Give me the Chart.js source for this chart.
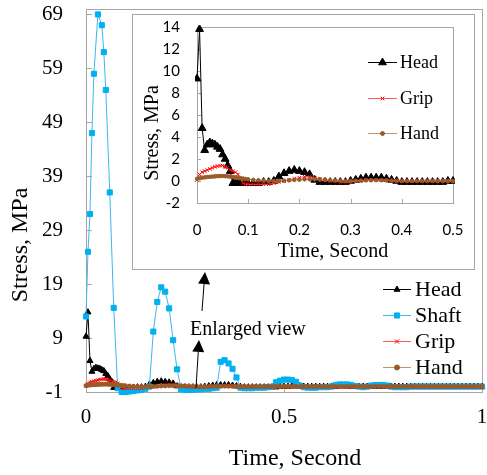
<!DOCTYPE html>
<html lang="en">
<head>
<meta charset="utf-8">
<title>Stress vs Time</title>
<script src="https://cdn.jsdelivr.net/npm/chart.js"></script>
<style>
  html, body { margin: 0; padding: 0; background: #fff; }
  #wrap { position: relative; width: 487px; height: 475px; overflow: hidden; }
  #mainChart { position: absolute; left: 0; top: 0; }
  #insetBox { position: absolute; left: 132px; top: 14px; width: 343px; height: 256px;
              background: #fff; border: 1px solid #a6a6a6; box-sizing: border-box; }
  #insetChart { display: block; }
</style>
</head>
<body>
<div id="wrap">
  <canvas id="mainChart" width="487" height="475"></canvas>
  <div id="insetBox"><canvas id="insetChart" width="341" height="254"></canvas></div>
</div>

<script>
// time, s
const times = [
  0, 0.005, 0.01, 0.015, 0.02, 0.025, 0.03, 0.035, 0.04, 0.045, 0.05, 0.055, 0.06, 0.065, 0.07, 0.075, 0.08, 0.085, 0.09, 0.095, 0.1,
  0.11, 0.12, 0.13, 0.14, 0.15, 0.16, 0.17, 0.18, 0.19, 0.2,
  0.21, 0.22, 0.23, 0.24, 0.25, 0.26, 0.27, 0.28, 0.29, 0.3,
  0.31, 0.32, 0.33, 0.34, 0.35, 0.36, 0.37, 0.38, 0.39, 0.4,
  0.41, 0.42, 0.43, 0.44, 0.45, 0.46, 0.47, 0.48, 0.49, 0.5,
  0.51, 0.52, 0.53, 0.54, 0.55, 0.56, 0.57, 0.58, 0.59, 0.6,
  0.61, 0.62, 0.63, 0.64, 0.65, 0.66, 0.67, 0.68, 0.69, 0.7,
  0.71, 0.72, 0.73, 0.74, 0.75, 0.76, 0.77, 0.78, 0.79, 0.8,
  0.81, 0.82, 0.83, 0.84, 0.85, 0.86, 0.87, 0.88, 0.89, 0.9,
  0.91, 0.92, 0.93, 0.94, 0.95, 0.96, 0.97, 0.98, 0.99, 1.0
];

// stress, MPa
const headStress = [
  9.3, 13.8, 4.8, 2.8, 3.3, 3.5, 3.4, 3.3, 3.1, 2.9, 2.4, 2.0, 1.4, 0.9, -0.2, -0.2, -0.2, -0.2, -0.2, -0.2, -0.2,
  -0.2, -0.2, -0.1, -0.1, 0.0, 0.4, 0.7, 0.9, 1.0, 0.9,
  0.8, 0.6, 0.1, -0.1, -0.1, -0.1, -0.1, -0.1, -0.1, 0.0,
  0.1, 0.2, 0.3, 0.3, 0.3, 0.3, 0.2, 0.1, 0.0, -0.1,
  -0.1, -0.1, -0.1, -0.1, -0.1, -0.1, -0.1, -0.1, 0.0, 0.0,
  0.0, 0.1, 0.1, 0.1, 0.0, 0.0, 0.0, 0.0, 0.0, 0.0,
  0.0, 0.0, 0.0, 0.1, 0.1, 0.1, 0.0, 0.0, 0.0, 0.0,
  0.0, 0.0, 0.0, 0.0, 0.0, 0.0, 0.0, 0.0, 0.0, 0.0,
  0.0, 0.0, 0.0, 0.0, 0.0, 0.0, 0.0, 0.0, 0.0, 0.0,
  0.0, 0.0, 0.0, 0.0, 0.0, 0.0, 0.0, 0.0, 0.0, 0.0
];
const shaftStress = [
  13, 25, 32, 47, 58, null, 69, null, 67, 62, 55, null, 36, null, 14.6, null, -0.3, null, -1, null, -1,
  -0.9, -0.8, -0.7, -0.6, -0.4, 0.0, 10.2, 15.7, 18.4, 17.6,
  14.5, 8.6, 3.2, -0.5, -0.6, -0.6, -0.6, -0.5, -0.5, -0.4,
  -0.4, -0.3, -0.2, 4.6, 4.9, 4.3, 3.3, 1.7, -0.2, -0.3,
  -0.3, -0.3, -0.2, -0.2, -0.2, -0.1, 0.0, 0.8, 1.1, 1.3,
  1.3, 1.2, 0.9, 0.2, -0.1, -0.2, -0.2, -0.2, -0.1, -0.1,
  -0.1, 0.0, 0.3, 0.4, 0.4, 0.4, 0.3, 0.1, 0.0, -0.1,
  0.0, 0.2, 0.3, 0.3, 0.3, 0.2, 0.0, -0.1, -0.1, -0.1,
  -0.1, 0.0, 0.0, 0.0, 0.0, 0.0, 0.0, 0.0, 0.0, 0.0,
  0.0, 0.0, 0.0, 0.0, 0.0, 0.0, 0.0, 0.0, 0.0, 0.0
];
const gripStress = [
  0.1, 0.6, 0.8, 0.9, 1.0, 1.1, 1.2, 1.3, 1.35, 1.4, 1.4, 1.3, 1.2, 1.0, 0.9, 0.8, 0.6, 0.2, -0.2, -0.3, -0.3,
  -0.3, -0.3, -0.3, -0.3, -0.2, -0.1, 0.0, 0.1, 0.2, 0.3,
  0.4, 0.4, 0.3, 0.2, 0.1, 0.0, 0.0, -0.1, -0.1, -0.1,
  0.0, 0.0, 0.1, 0.1, 0.1, 0.1, 0.1, 0.0, 0.0, 0.0,
  0.0, 0.0, 0.0, 0.0, 0.0, 0.0, 0.0, 0.0, 0.0, 0.0,
  0.0, 0.0, 0.0, 0.0, 0.0, 0.0, 0.0, 0.0, 0.0, 0.0,
  0.0, 0.0, 0.0, 0.0, 0.0, 0.0, 0.0, 0.0, 0.0, 0.0,
  0.0, 0.0, 0.0, 0.0, 0.0, 0.0, 0.0, 0.0, 0.0, 0.0,
  0.0, 0.0, 0.0, 0.0, 0.0, 0.0, 0.0, 0.0, 0.0, 0.0,
  0.0, 0.0, 0.0, 0.0, 0.0, 0.0, 0.0, 0.0, 0.0, 0.0
];
const handStress = [
  0.2, 0.25, 0.3, 0.33, 0.36, 0.38, 0.4, 0.42, 0.44, 0.45, 0.45, 0.44, 0.42, 0.4, 0.37, 0.34, 0.3, 0.26, 0.22, 0.18, 0.15,
  0.1, 0.06, 0.03, 0.0, 0.0, 0.0, 0.03, 0.06, 0.1, 0.12,
  0.15, 0.16, 0.15, 0.12, 0.1, 0.07, 0.04, 0.02, 0.0, 0.0,
  0.02, 0.04, 0.06, 0.07, 0.08, 0.07, 0.06, 0.04, 0.02, 0.0,
  0.0, 0.0, 0.0, 0.0, 0.0, 0.0, 0.0, 0.0, 0.0, 0.0,
  0.0, 0.0, 0.0, 0.0, 0.0, 0.0, 0.0, 0.0, 0.0, 0.0,
  0.0, 0.0, 0.0, 0.0, 0.0, 0.0, 0.0, 0.0, 0.0, 0.0,
  0.0, 0.0, 0.0, 0.0, 0.0, 0.0, 0.0, 0.0, 0.0, 0.0,
  0.0, 0.0, 0.0, 0.0, 0.0, 0.0, 0.0, 0.0, 0.0, 0.0,
  0.0, 0.0, 0.0, 0.0, 0.0, 0.0, 0.0, 0.0, 0.0, 0.0
];

// tick labels
const mainYTicks = [-1, 9, 19, 29, 39, 49, 59, 69];
const mainXTicks = [0, 0.5, 1];
const insetYTicks = [-2, 0, 2, 4, 6, 8, 10, 12, 14];
const insetXTicks = [0, 0.1, 0.2, 0.3, 0.4, 0.5];

const SERIF = "'Liberation Serif', 'Times New Roman', serif";
const SANS = "Lato, 'Liberation Sans', sans-serif";

function pts(vals) {
  return times.map((t, i) => ({ x: t, y: vals[i] }));
}

function series(label, vals, line, mark, style, r, order) {
  return {
    label: label,
    data: pts(vals),
    borderColor: line,
    borderWidth: 1,
    backgroundColor: mark,
    pointBackgroundColor: mark,
    pointBorderColor: mark,
    pointBorderWidth: 1,
    pointStyle: style,
    pointRadius: r,
    tension: 0,
    spanGaps: true,
    order: order
  };
}

// draws the box round the plot and the small inward ticks
function frameAndTicks(chart, len) {
  const ctx = chart.ctx, a = chart.chartArea;
  ctx.save();
  ctx.strokeStyle = '#a6a6a6';
  ctx.lineWidth = 1;
  ctx.strokeRect(Math.round(a.left) + 0.5, Math.round(a.top) + 0.5,
                 Math.round(a.right - a.left), Math.round(a.bottom - a.top));
  ctx.beginPath();
  chart.scales.y.ticks.forEach(t => {
    const y = Math.round(chart.scales.y.getPixelForValue(t.value)) + 0.5;
    ctx.moveTo(a.left, y); ctx.lineTo(a.left + len, y);
  });
  chart.scales.x.ticks.forEach(t => {
    const x = Math.round(chart.scales.x.getPixelForValue(t.value)) + 0.5;
    ctx.moveTo(x, a.bottom); ctx.lineTo(x, a.bottom - len);
  });
  ctx.stroke();
  ctx.restore();
}

function legendRows(chart, rows, x0, x1, textX, font) {
  const ctx = chart.ctx;
  ctx.save();
  rows.forEach(r => {
    const ds = chart.data.datasets[r.i];
    ctx.strokeStyle = ds.borderColor;
    ctx.lineWidth = 1;
    ctx.beginPath();
    ctx.moveTo(x0, r.y + 0.5); ctx.lineTo(x1, r.y + 0.5);
    ctx.stroke();
    ctx.fillStyle = ds.pointBackgroundColor;
    ctx.strokeStyle = ds.pointBorderColor;
    Chart.helpers.drawPoint(ctx, { pointStyle: ds.pointStyle, radius: r.r, rotation: 0, borderWidth: 1 },
                            (x0 + x1) / 2, r.y + 0.5);
    ctx.fillStyle = '#000';
    ctx.font = font;
    ctx.textAlign = 'left';
    ctx.textBaseline = 'middle';
    ctx.fillText(ds.label, textX, r.y + 1);
  });
  ctx.restore();
}

function arrow(ctx, x0, y0, x1, y1) {
  const ang = Math.atan2(y1 - y0, x1 - x0), hl = 12, hw = 6;
  const bx = x1 - hl * Math.cos(ang), by = y1 - hl * Math.sin(ang);
  ctx.beginPath();
  ctx.moveTo(x0, y0); ctx.lineTo(bx, by);
  ctx.stroke();
  ctx.beginPath();
  ctx.moveTo(x1, y1);
  ctx.lineTo(bx + hw * Math.sin(ang), by - hw * Math.cos(ang));
  ctx.lineTo(bx - hw * Math.sin(ang), by + hw * Math.cos(ang));
  ctx.closePath();
  ctx.fill();
}

const mainDecor = {
  id: 'mainDecor',
  beforeDatasetsDraw(chart) { frameAndTicks(chart, 6); },
  afterDraw(chart) {
    const ctx = chart.ctx;
    ctx.save();
    ctx.fillStyle = '#000';
    ctx.font = '24px ' + SERIF;
    ctx.textAlign = 'center';
    ctx.textBaseline = 'middle';
    ctx.fillText('Time, Second', 295, 459);
    ctx.translate(21, 245);
    ctx.rotate(-Math.PI / 2);
    ctx.fillText('Stress, MPa', 0, 0);
    ctx.restore();

    legendRows(chart, [
      { i: 0, y: 289, r: 3.5 }, { i: 1, y: 315, r: 3.6 },
      { i: 2, y: 341, r: 3 }, { i: 3, y: 367, r: 2.5 }
    ], 383, 411, 415, '22px ' + SERIF);

    ctx.save();
    ctx.fillStyle = '#000';
    ctx.strokeStyle = '#000';
    ctx.lineWidth = 1;
    ctx.font = '20px ' + SERIF;
    ctx.textAlign = 'left';
    ctx.textBaseline = 'middle';
    ctx.fillText('Enlarged view', 190, 330);
    arrow(ctx, 202, 311, 205, 272);
    arrow(ctx, 196, 388, 199, 340);
    ctx.restore();
  }
};

const insetDecor = {
  id: 'insetDecor',
  beforeDatasetsDraw(chart) { frameAndTicks(chart, 4); },
  afterDraw(chart) {
    const ctx = chart.ctx;
    ctx.save();
    ctx.fillStyle = '#000';
    ctx.font = '20px ' + SERIF;
    ctx.textAlign = 'center';
    ctx.textBaseline = 'middle';
    ctx.fillText('Time, Second', 200, 237);
    ctx.translate(20, 118);
    ctx.rotate(-Math.PI / 2);
    ctx.fillText('Stress, MPa', 0, 0);
    ctx.restore();

    legendRows(chart, [
      { i: 0, y: 47, r: 4.5 }, { i: 1, y: 83, r: 2.5 }, { i: 2, y: 118, r: 2 }
    ], 235, 264, 267, '18px ' + SERIF);
  }
};

const HEAD = ['#000000', '#000000'];
const SHAFT = ['#3ab8ec', '#00b0f0'];
const GRIP = ['#ff5a5a', '#ff0000'];
const HAND = ['#c0946a', '#9a5a28'];

new Chart(document.getElementById('mainChart'), {
  type: 'line',
  data: {
    datasets: [
      series('Head', headStress, HEAD[0], HEAD[1], 'triangle', 3.5, 4),
      series('Shaft', shaftStress, SHAFT[0], SHAFT[1], 'rect', 3.6, 3),
      series('Grip', gripStress, GRIP[0], GRIP[1], 'crossRot', 2.5, 2),
      series('Hand', handStress, HAND[0], HAND[1], 'circle', 2, 1)
    ]
  },
  options: {
    responsive: false,
    animation: false,
    events: [],
    clip: false,
    layout: { padding: { top: 9, right: 2, left: 0, bottom: 0 } },
    plugins: { legend: { display: false }, tooltip: { enabled: false } },
    scales: {
      x: {
        type: 'linear', min: 0, max: 1,
        grid: { display: false, drawTicks: false },
        border: { display: false },
        afterBuildTicks: s => { s.ticks = mainXTicks.map(v => ({ value: v })); },
        afterFit: s => { s.height = 83; s.paddingLeft = 0; s.paddingRight = 0; },
        ticks: { color: '#000', padding: 13, maxRotation: 0, autoSkip: false,
                 font: { family: SERIF, size: 21 }, callback: v => String(v) }
      },
      y: {
        type: 'linear', min: -1, max: 70,
        grid: { display: false, drawTicks: false },
        border: { display: false },
        afterBuildTicks: s => { s.ticks = mainYTicks.map(v => ({ value: v })); },
        afterFit: s => { s.width = 86; s.paddingTop = 0; s.paddingBottom = 0; },
        ticks: { color: '#000', padding: 23, autoSkip: false,
                 font: { family: SERIF, size: 21 }, callback: v => String(v) }
      }
    }
  },
  plugins: [mainDecor]
});

new Chart(document.getElementById('insetChart'), {
  type: 'line',
  data: {
    datasets: [
      series('Head', headStress, HEAD[0], HEAD[1], 'triangle', 4.5, 3),
      series('Grip', gripStress, GRIP[0], GRIP[1], 'crossRot', 2.5, 2),
      series('Hand', handStress, HAND[0], HAND[1], 'circle', 1.8, 1)
    ]
  },
  options: {
    responsive: false,
    animation: false,
    events: [],
    clip: 2,
    layout: { padding: { top: 12, right: 21, left: 0, bottom: 0 } },
    plugins: { legend: { display: false }, tooltip: { enabled: false } },
    scales: {
      x: {
        type: 'linear', min: 0, max: 0.5,
        grid: { display: false, drawTicks: false },
        border: { display: false },
        afterBuildTicks: s => { s.ticks = insetXTicks.map(v => ({ value: v })); },
        afterFit: s => { s.height = 66; s.paddingLeft = 0; s.paddingRight = 0; },
        ticks: { color: '#000', padding: 18, maxRotation: 0, autoSkip: false,
                 font: { family: SANS, size: 15 }, callback: v => String(v) }
      },
      y: {
        type: 'linear', min: -2, max: 14,
        grid: { display: false, drawTicks: false },
        border: { display: false },
        afterBuildTicks: s => { s.ticks = insetYTicks.map(v => ({ value: v })); },
        afterFit: s => { s.width = 64; s.paddingTop = 0; s.paddingBottom = 0; },
        ticks: { color: '#000', padding: 17, autoSkip: false,
                 font: { family: SANS, size: 15 }, callback: v => String(v) }
      }
    }
  },
  plugins: [insetDecor]
});
</script>
</body>
</html>
